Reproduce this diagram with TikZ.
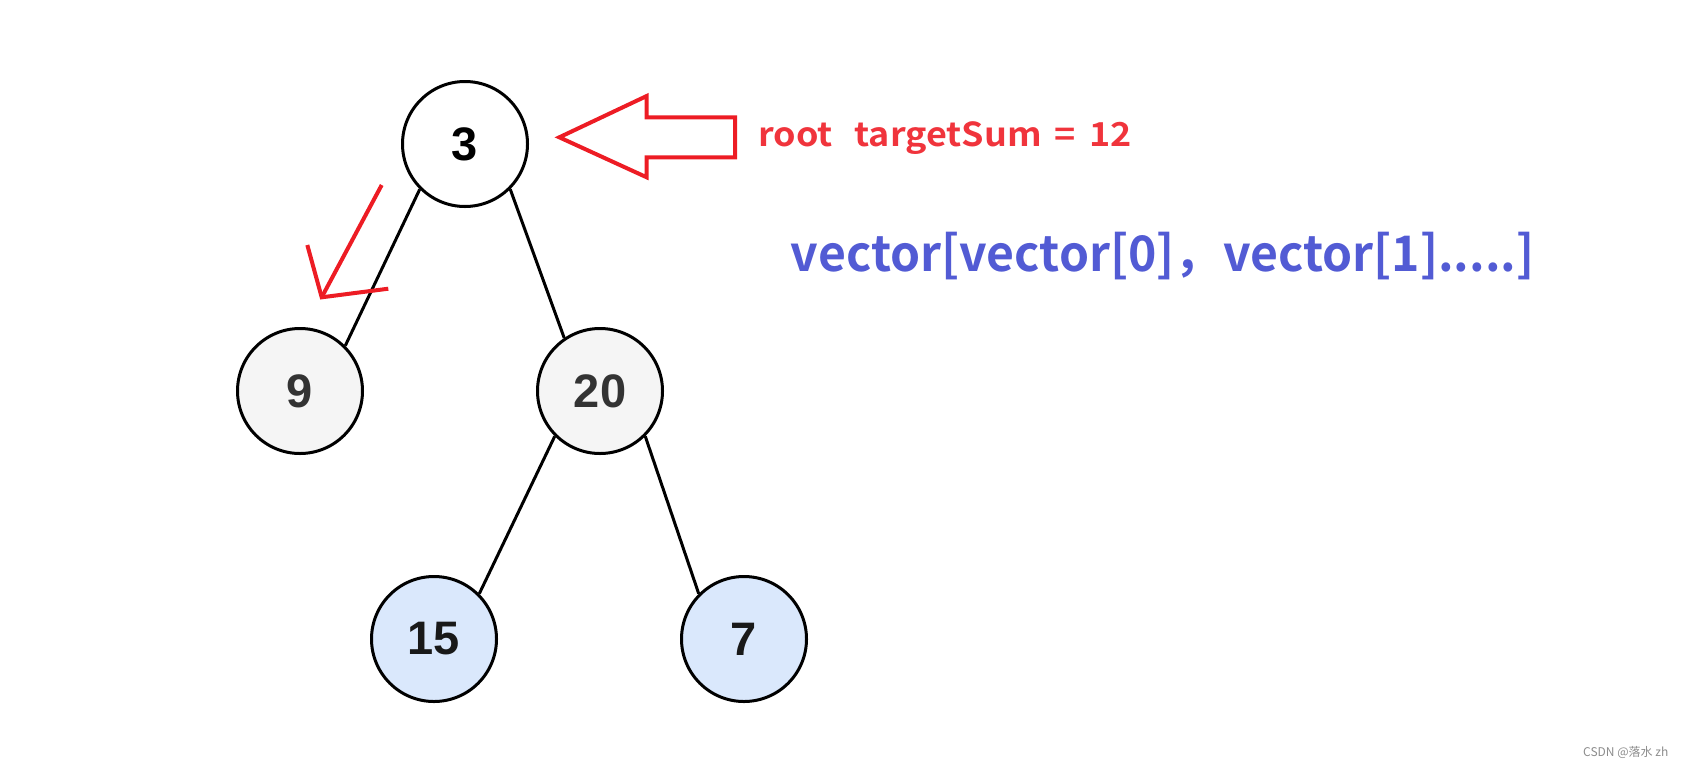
\documentclass[tikz,border=0pt]{standalone}
\usepackage{fontspec}
\usepackage{xcolor}
\usepackage{tikz}
\newfontfamily\numfont{Liberation Sans}
\newfontfamily\cjk{Noto Sans CJK SC}[BoldFont={Noto Sans CJK SC Bold}]
\newfontfamily\cjkwide{Noto Sans CJK SC Bold}[FakeStretch=1.09]
\newfontfamily\cjknarrow{Noto Sans CJK SC Bold}[FakeStretch=0.982]
\definecolor{markred}{HTML}{ED1C24}
\definecolor{notered}{HTML}{F0343C}
\definecolor{noteblue}{HTML}{525BD4}
\definecolor{greyfill}{HTML}{F5F5F5}
\definecolor{leaffill}{HTML}{DAE8FC}
\tikzset{treenode/.style={circle,draw,line width=3pt,minimum size=125pt,inner sep=0pt,
        font=\numfont\bfseries\fontsize{47}{47}\selectfont},
    rootnode/.style={treenode,fill=white,text=black},
    graynode/.style={treenode,fill=greyfill,text=black!80},
    leafnode/.style={treenode,fill=leaffill,text=black!90},
    edge from parent/.style={draw,line width=3pt},
    leftedge/.style={edge from parent path={(\tikzparentnode.-135) -- (\tikzchildnode.45)}},
    rightedge/.style={edge from parent path={(\tikzparentnode.-45) -- (\tikzchildnode.#1)}},
    rightedge/.default=135,
    redmark/.style={draw=markred,line width=4pt}}

\begin{document}
\begin{tikzpicture}[x=1pt,y=-1pt,
        level 1/.style={level distance=247pt,sibling distance=300pt},
        level 2/.style={level distance=248pt,sibling distance=310pt}]
    \useasboundingbox (0,0) rectangle (1704,769);
    \node[rootnode] (n3) at (465,144) {3}
    child[xshift=-15pt,leftedge] { node[graynode] (n9) {9} }
    child[xshift=-15pt,rightedge=124] { node[graynode] (n20) {20}
        child[xshift=-11pt,leftedge] { node[leafnode] (n15) {15} }
        child[xshift=-11pt,rightedge] { node[leafnode] (n7) {7} }
    };
    % big hollow arrow pointing at the root
    \draw[redmark,line join=miter] (559.3,137.3) -- (646.7,96) -- (646.7,117.3) -- (735,117.3)
        -- (735,157.3) -- (646.7,157.3) -- (646.7,177.3) -- cycle;
    % hand drawn arrow towards the left child
    \coordinate (ptrstart) at (381.7,185);
    \coordinate (ptrtip) at (321.7,297.3);
    \coordinate (ptrleft) at (307.3,245);
    \coordinate (ptrright) at (388.3,288.7);
    \draw[redmark] (ptrstart) -- (ptrtip);
    \draw[redmark] (ptrleft) -- (ptrtip) -- (ptrright);
    % notes
    \node[anchor=base west,inner sep=0pt,text=notered,
        font=\cjkwide\fontsize{33}{33}\selectfont] (rootnote) at (758,146.7)
        {root\hspace{22pt}targetSum\hspace{13pt}=\hspace{13pt}12};
    \node[anchor=base west,inner sep=0pt,text=noteblue,
        font=\cjknarrow\fontsize{49}{49}\selectfont] (vecnote) at (790.7,271.7)
        {vector[vector[0]，vector[1].....]};
    \node[anchor=west,inner sep=0pt,text=black!45,
        font=\cjk\fontsize{12}{12}\selectfont] (wmark) at (1583,752.7) {CSDN @落水 zh};
\end{tikzpicture}
\end{document}
